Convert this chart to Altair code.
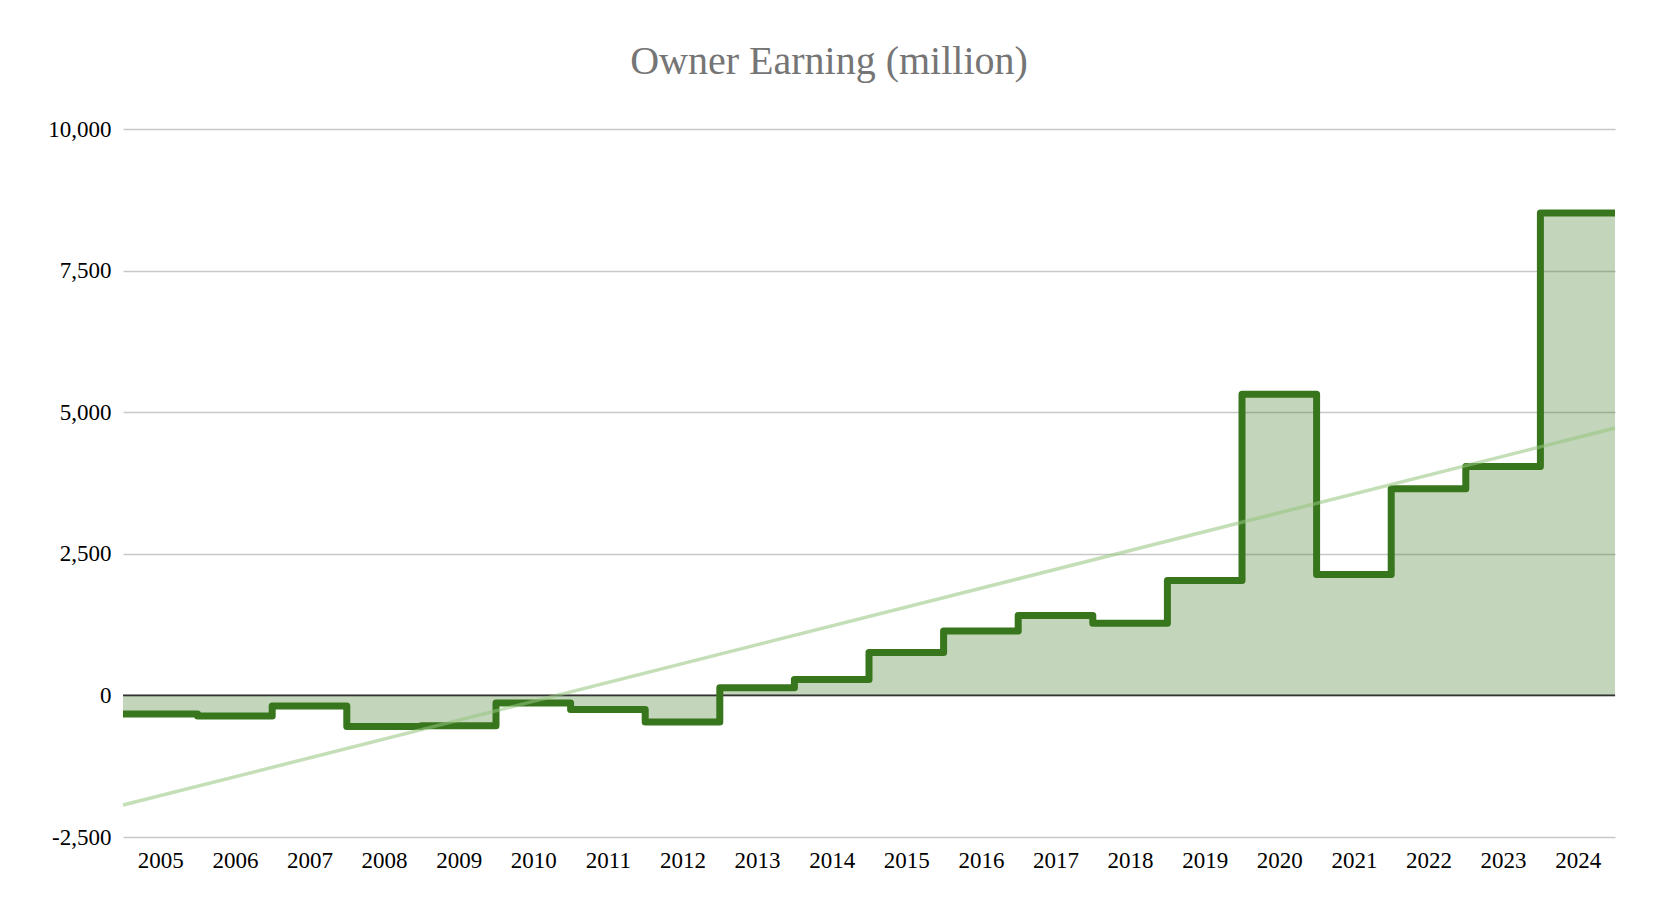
import altair as alt
import pandas as pd

years = list(range(2005, 2025))
earnings = [-330, -365, -189, -547, -535, -136, -247, -471, 136, 282,
            759, 1135, 1411, 1276, 2029, 5316, 2135, 3647, 4040, 8516]
y_ticks = [-2500, 0, 2500, 5000, 7500, 10000]

# step data: each year occupies [i, i+1]; closing point repeats the last value
step_df = pd.DataFrame({
    "pos": list(range(len(years))) + [len(years)],
    "value": earnings + [earnings[-1]],
})
# trend data: year centres
trend_df = pd.DataFrame({
    "pos": [i + 0.5 for i in range(len(years))],
    "value": earnings,
})

FONT = "Liberation Serif"
x_scale = alt.Scale(domain=[0, len(years)], nice=False, zero=False)
y_scale = alt.Scale(domain=[y_ticks[0], y_ticks[-1]], nice=False)

x_axis = alt.Axis(
    values=[i + 0.5 for i in range(len(years))],
    labelExpr="format(datum.value + 2004.5, 'd')",
    grid=False, ticks=False, domain=False, title=None,
    labelFont=FONT, labelFontSize=23, labelColor="#000000", labelPadding=12)
y_axis = alt.Axis(
    values=y_ticks,
    labelExpr="(datum.value < 0 ? '-' : '') + format(abs(datum.value), ',.0f')",
    grid=True, gridColor="#c8c8c8", gridWidth=1.3,
    ticks=False, domain=False, title=None,
    labelFont=FONT, labelFontSize=23, labelColor="#000000", labelPadding=12)


def xe(field="pos"):
    return alt.X(f"{field}:Q", scale=x_scale, axis=x_axis)


def ye(field="value"):
    return alt.Y(f"{field}:Q", scale=y_scale, axis=y_axis)


area = alt.Chart(step_df).mark_area(
    interpolate="step-after", color="#38761d", opacity=0.3
).encode(x=xe(), y=ye())

zero = alt.Chart(pd.DataFrame({"value": [0]})).mark_rule(
    color="#333333", strokeWidth=1.8
).encode(y=ye())

line = alt.Chart(step_df).mark_line(
    interpolate="step-after", color="#38761d", strokeWidth=7, strokeJoin="round"
).encode(x=xe(), y=ye())

trend = alt.Chart(trend_df).transform_regression(
    "pos", "value", extent=[0, len(years)]
).mark_line(color="#93c47d", strokeWidth=3.5, opacity=0.55).encode(
    x=xe(), y=ye())

chart = alt.layer(area, zero, line, trend).properties(
    width=1492, height=708,
    background="white",
    autosize=alt.AutoSizeParams(type="none"),
    padding={"left": 115, "top": 121, "right": 37, "bottom": 70},
    title=alt.Title("Owner Earning (million)", font=FONT, fontSize=40,
                    fontWeight="normal", color="#757575", anchor="middle",
                    baseline="alphabetic", offset=42, dx=-40, dy=38),
).configure_view(stroke=None)

chart.save("out.html", embed_options={"renderer": "svg", "actions": False})
